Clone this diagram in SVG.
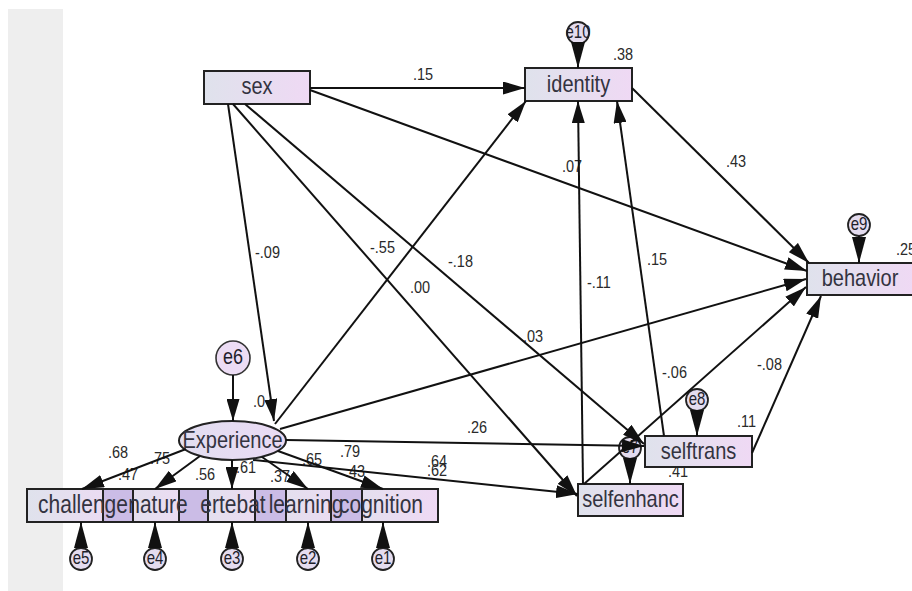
<svg xmlns="http://www.w3.org/2000/svg" width="912" height="591" viewBox="0 0 912 591">
<defs>
<linearGradient id="boxg" x1="0" y1="0" x2="1" y2="0">
<stop offset="0" stop-color="#dfe2ec"/>
<stop offset="1" stop-color="#efd9f4"/>
</linearGradient>
<linearGradient id="ellg" x1="0" y1="0" x2="1" y2="0">
<stop offset="0" stop-color="#e2def0"/>
<stop offset="1" stop-color="#eadaf4"/>
</linearGradient>
<marker id="ah" markerUnits="userSpaceOnUse" markerWidth="22" markerHeight="13" refX="22" refY="6.5" orient="auto">
<path d="M0,0 L22,6.5 L0,13 z" fill="#111"/>
</marker>
<marker id="eh" markerUnits="userSpaceOnUse" markerWidth="26" markerHeight="14" refX="26" refY="7" orient="auto">
<path d="M0,0 L26,7 L0,14 z" fill="#111"/>
</marker>
<style>
.box{fill:url(#boxg);stroke:#222;stroke-width:2}
.ov{fill:#cbbce6;stroke:#222;stroke-width:2}
.lbl{font-family:"Liberation Sans",Arial,sans-serif;font-size:20px;fill:#333340;text-anchor:middle}
.ind{font-size:21px}
.num{font-family:"Liberation Sans",Arial,sans-serif;font-size:14.5px;fill:#2a2a2a}
.err{fill:#e4dcef;stroke:#222;stroke-width:1.8}
.etx{font-family:"Liberation Sans",Arial,sans-serif;font-size:15px;fill:#1e1e2a;text-anchor:middle}
.c line{stroke:#111;stroke-width:2;marker-end:url(#ah)}
.c line.e{marker-end:url(#eh)}
</style>
</defs>
<rect x="0" y="0" width="912" height="591" fill="#ffffff"/>
<rect x="8" y="9" width="55" height="582" fill="#eeeeee"/>

<g id="labels">
<text class="num" transform="translate(413 80) scale(1 1.2)">.15</text>
<text class="num" transform="translate(613 60) scale(1 1.2)">.38</text>
<text class="num" transform="translate(726 167) scale(1 1.2)">.43</text>
<text class="num" transform="translate(896 255) scale(1 1.2)">.25</text>
<text class="num" transform="translate(562 172) scale(1 1.2)">.07</text>
<text class="num" transform="translate(255 258) scale(1 1.2)">-.09</text>
<text class="num" transform="translate(370 253) scale(1 1.2)">-.55</text>
<text class="num" transform="translate(448 267) scale(1 1.2)">-.18</text>
<text class="num" transform="translate(410 293) scale(1 1.2)">.00</text>
<text class="num" transform="translate(587 288) scale(1 1.2)">-.11</text>
<text class="num" transform="translate(647 265) scale(1 1.2)">.15</text>
<text class="num" transform="translate(523 342) scale(1 1.2)">.03</text>
<text class="num" transform="translate(662 378) scale(1 1.2)">-.06</text>
<text class="num" transform="translate(757 370) scale(1 1.2)">-.08</text>
<text class="num" transform="translate(737 427) scale(1 1.2)">.11</text>
<text class="num" transform="translate(467 433) scale(1 1.2)">.26</text>
<text class="num" transform="translate(668 477) scale(1 1.2)">.41</text>
<text class="num" transform="translate(427 467) scale(1 1.2)">.64</text>
<text class="num" transform="translate(427 476) scale(1 1.2)">.62</text>
<text class="num" transform="translate(253 407) scale(1 1.2)">.0</text>
<text class="num" transform="translate(108 458) scale(1 1.2)">.68</text>
<text class="num" transform="translate(118 480) scale(1 1.2)">.47</text>
<text class="num" transform="translate(150 464) scale(1 1.2)">.75</text>
<text class="num" transform="translate(195 480) scale(1 1.2)">.56</text>
<text class="num" transform="translate(236 473) scale(1 1.2)">.61</text>
<text class="num" transform="translate(270 482) scale(1 1.2)">.37</text>
<text class="num" transform="translate(302 465) scale(1 1.2)">.65</text>
<text class="num" transform="translate(340 457) scale(1 1.2)">.79</text>
<text class="num" transform="translate(345 477) scale(1 1.2)">.43</text>
</g>

<g id="sex"><rect class="box" x="204" y="71" width="106" height="33"/><text class="lbl" transform="translate(257 94) scale(1 1.2)">sex</text></g>
<g id="identity"><rect class="box" x="525" y="68" width="107" height="33"/><text class="lbl" transform="translate(578.5 92) scale(1 1.2)">identity</text></g>
<g id="behavior"><rect class="box" x="807" y="263" width="106" height="32"/><text class="lbl" transform="translate(860 286) scale(1 1.2)">behavior</text></g>
<g id="selftrans"><rect class="box" x="645" y="436" width="107" height="31"/><text class="lbl" transform="translate(698.5 459) scale(1 1.2)">selftrans</text></g>
<g id="selfenhanc"><rect class="box" x="578" y="484" width="105" height="32"/><text class="lbl" transform="translate(630.5 507) scale(1 1.2)">selfenhanc</text></g>
<g id="Experience"><ellipse cx="232.5" cy="440.5" rx="53.5" ry="19.5" fill="url(#ellg)" stroke="#222" stroke-width="2"/><text class="lbl" transform="translate(232.5 448) scale(1 1.2)">Experience</text></g>

<g id="indicators">
<g id="challenge"><rect class="box" x="27" y="489" width="106" height="33"/></g>
<g id="nature"><rect class="box" x="103" y="489" width="105" height="33"/></g>
<g id="ertebat"><rect class="box" x="179" y="489" width="107" height="33"/></g>
<g id="learning"><rect class="box" x="255" y="489" width="107" height="33"/></g>
<g id="cognition"><rect class="box" x="331" y="489" width="107" height="33"/></g>
<rect class="ov" x="103" y="489" width="30" height="33"/>
<rect class="ov" x="179" y="489" width="29" height="33"/>
<rect class="ov" x="255" y="489" width="31" height="33"/>
<rect class="ov" x="331" y="489" width="31" height="33"/>
<text class="lbl ind" transform="translate(83 513) scale(1 1.2)">challenge</text>
<text class="lbl ind" transform="translate(158 513) scale(1 1.2)">nature</text>
<text class="lbl ind" transform="translate(233 513) scale(1 1.2)">ertebat</text>
<text class="lbl ind" transform="translate(306 513) scale(1 1.2)">learning</text>
<text class="lbl ind" transform="translate(381 513) scale(1 1.2)">cognition</text>
</g>

<g id="e6"><circle cx="233" cy="358" r="17" fill="#ecdcf4" stroke="#333" stroke-width="1.6"/><text class="etx" transform="translate(233 364) scale(1 1.2)" style="font-size:18px">e6</text></g>
<g id="e10"><circle class="err" cx="578" cy="33" r="11" fill="#e8d6f2"/><text class="etx" transform="translate(578 38) scale(1 1.2)">e10</text></g>
<g id="e9"><circle class="err" cx="859" cy="225" r="11"/><text class="etx" transform="translate(859 230) scale(1 1.2)">e9</text></g>
<g id="e8"><circle class="err" cx="697" cy="400" r="11"/><text class="etx" transform="translate(697 405) scale(1 1.2)">e8</text></g>
<g id="e7"><circle class="err" cx="630" cy="448" r="11"/><text class="etx" transform="translate(630 453) scale(1 1.2)">e7</text></g>
<g id="e5"><circle class="err" cx="81" cy="559" r="11"/><text class="etx" transform="translate(81 564) scale(1 1.2)">e5</text></g>
<g id="e4"><circle class="err" cx="155" cy="559" r="11"/><text class="etx" transform="translate(155 564) scale(1 1.2)">e4</text></g>
<g id="e3"><circle class="err" cx="232" cy="559" r="11"/><text class="etx" transform="translate(232 564) scale(1 1.2)">e3</text></g>
<g id="e2"><circle class="err" cx="308" cy="559" r="11"/><text class="etx" transform="translate(308 564) scale(1 1.2)">e2</text></g>
<g id="e1"><circle class="err" cx="383" cy="559" r="11"/><text class="etx" transform="translate(383 564) scale(1 1.2)">e1</text></g>

<g id="connectors" class="c">
<line x1="310" y1="88" x2="525" y2="88"/>
<line x1="310" y1="90" x2="807" y2="271"/>
<line x1="228" y1="104" x2="274" y2="421"/>
<line x1="233" y1="104" x2="577" y2="496"/>
<line x1="245" y1="104" x2="644" y2="444"/>
<line x1="632" y1="88" x2="809" y2="263"/>
<line x1="275" y1="424" x2="526" y2="101"/>
<line x1="280" y1="429" x2="806" y2="279"/>
<line x1="286" y1="440" x2="644" y2="446"/>
<line x1="253" y1="460" x2="578" y2="494"/>
<line x1="583" y1="484" x2="578" y2="101"/>
<line x1="664" y1="436" x2="617" y2="101"/>
<line x1="584" y1="484" x2="806" y2="287"/>
<line x1="752" y1="453" x2="821" y2="296"/>
<line x1="233" y1="375" x2="233" y2="421"/>
<line x1="186" y1="449" x2="82" y2="489"/>
<line x1="200" y1="456" x2="155" y2="489"/>
<line x1="232" y1="460" x2="232" y2="489"/>
<line x1="262" y1="457" x2="308" y2="489"/>
<line x1="278" y1="451" x2="383" y2="489"/>
<line class="e" x1="578" y1="44" x2="578" y2="68"/>
<line class="e" x1="859" y1="236" x2="859" y2="263"/>
<line class="e" x1="697" y1="411" x2="697" y2="436"/>
<line class="e" x1="630" y1="459" x2="630" y2="484"/>
<line class="e" x1="81" y1="548" x2="81" y2="522"/>
<line class="e" x1="155" y1="548" x2="155" y2="522"/>
<line class="e" x1="232" y1="548" x2="232" y2="522"/>
<line class="e" x1="308" y1="548" x2="308" y2="522"/>
<line class="e" x1="383" y1="548" x2="383" y2="522"/>
</g>
</svg>
